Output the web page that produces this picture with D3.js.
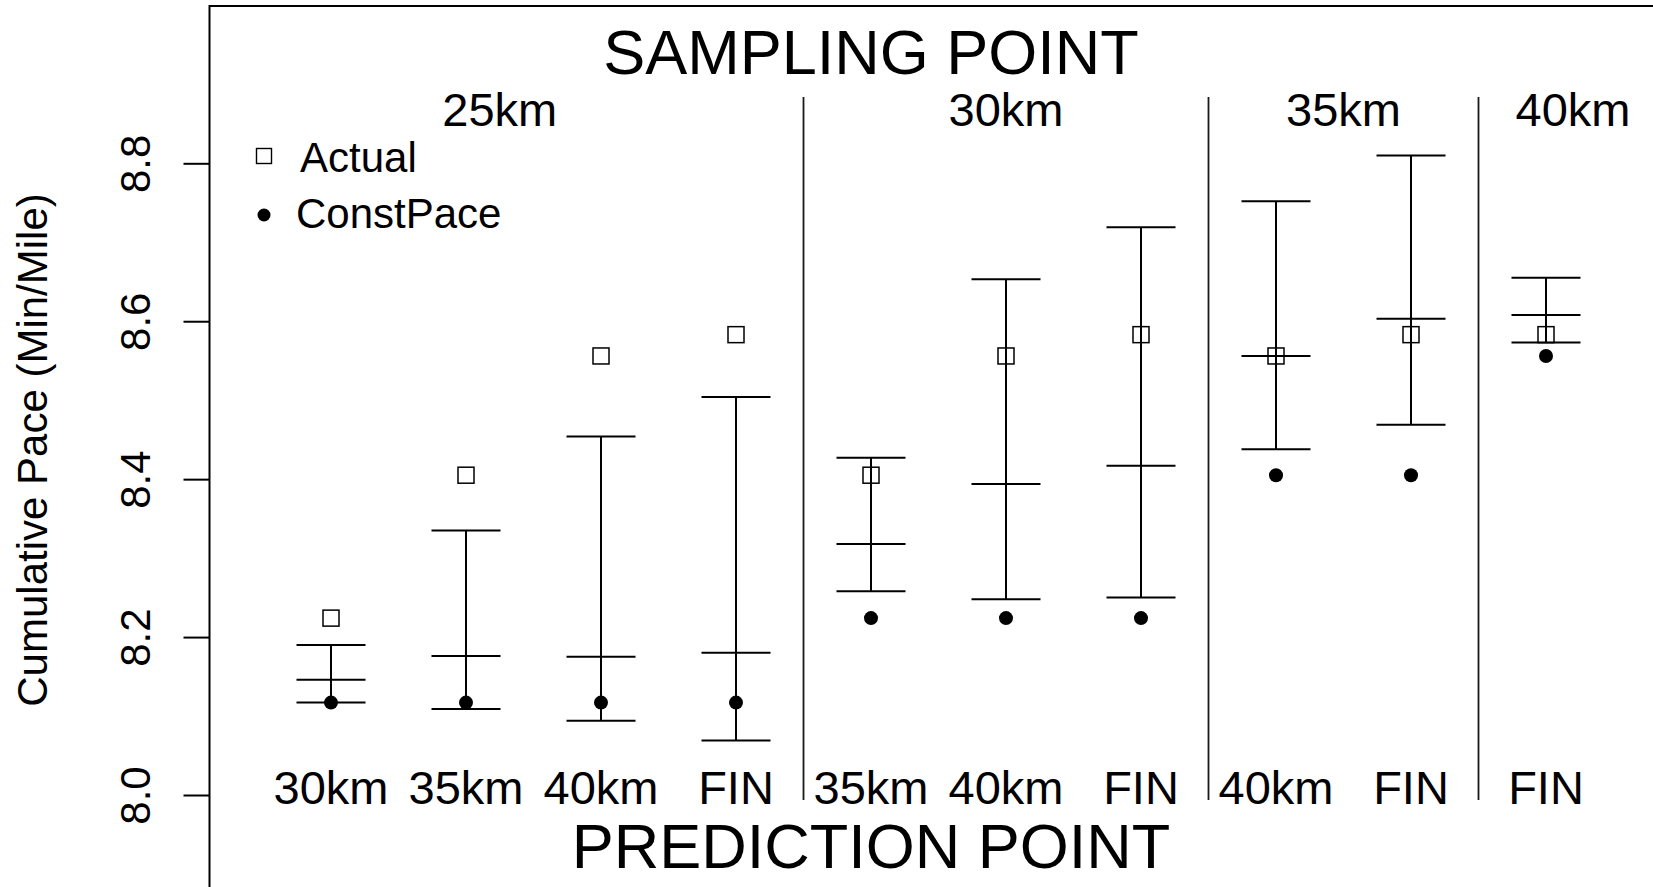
<!DOCTYPE html>
<html>
<head>
<meta charset="utf-8">
<script src="https://cdn.jsdelivr.net/npm/d3@7"></script>
<style>
  html, body { margin: 0; padding: 0; background: #fff; }
  svg { display: block; font-family: "Liberation Sans", Arial, Helvetica, sans-serif; }
</style>
</head>
<body>
<svg id="chart" width="1653" height="887"></svg>
<script>
// ---------------- data ----------------
const samplingPoints = ["25km", "30km", "35km", "40km"];
const groupLabelPos = [2.25, 6, 8.5, 10.2];
const separatorPos = [4.5, 7.5, 9.5];
const predictionLabels = ["30km", "35km", "40km", "FIN", "35km", "40km", "FIN", "40km", "FIN", "FIN"];
const positions = [1, 2, 3, 4, 5, 6, 7, 8, 9, 10];
const actual = [8.224, 8.405, 8.556, 8.583, 8.405, 8.556, 8.583, 8.556, 8.583, 8.583];
const constPace = [8.117, 8.117, 8.117, 8.117, 8.224, 8.224, 8.224, 8.405, 8.405, 8.556];
const lower = [8.117, 8.109, 8.094, 8.069, 8.258, 8.248, 8.250, 8.438, 8.469, 8.573];
const middle = [8.146, 8.176, 8.175, 8.180, 8.318, 8.394, 8.417, 8.556, 8.603, 8.608];
const upper = [8.190, 8.335, 8.454, 8.504, 8.427, 8.653, 8.719, 8.752, 8.810, 8.655];
const yTicks = [8.0, 8.2, 8.4, 8.6, 8.8];
const legendItems = ["Actual", "ConstPace"];
const titleTop = "SAMPLING POINT";
const titleBottom = "PREDICTION POINT";
const yLabel = "Cumulative Pace (Min/Mile)";

// ---------------- scales ----------------
const x = d3.scaleLinear().domain([1, 10]).range([331, 1546]);
const y = d3.scaleLinear().domain([8.0, 8.8]).range([795, 163.3]);

const svg = d3.select("#chart");
const black = "#000";

// plot frame (extends beyond the window on right and bottom)
svg.append("rect")
  .attr("x", x(0.1)).attr("y", 6)
  .attr("width", x(10.9) - x(0.1)).attr("height", 1000)
  .attr("fill", "none").attr("stroke", black).attr("stroke-width", 2);

// y axis
const yAxis = d3.axisLeft(y).tickValues(yTicks).tickFormat(d3.format(".1f")).tickSize(26).tickPadding(0);
const gy = svg.append("g").attr("transform", `translate(${x(0.1)},0)`).call(yAxis);
gy.select(".domain").remove();
gy.selectAll(".tick line").attr("stroke", black).attr("stroke-width", 2);
gy.selectAll(".tick text")
  .attr("x", 0).attr("y", 0).attr("dy", null)
  .attr("transform", `translate(${150 - x(0.1)},0) rotate(-90)`)
  .attr("text-anchor", "middle")
  .attr("font-size", 42).attr("fill", black)
  .style("font-family", '"Liberation Sans", Arial, sans-serif');

// y label
svg.append("text")
  .attr("transform", `translate(47,450) rotate(-90)`)
  .attr("text-anchor", "middle").attr("font-size", 42).attr("fill", black)
  .text(yLabel);

// separators
svg.selectAll("line.sep").data(separatorPos).enter().append("line")
  .attr("class", "sep")
  .attr("x1", d => x(d)).attr("x2", d => x(d))
  .attr("y1", 97).attr("y2", 800)
  .attr("stroke", "#1a1a1a").attr("stroke-width", 1.8);

// titles
svg.append("text").attr("x", x(5)).attr("y", 74).attr("text-anchor", "middle")
  .attr("font-size", 63).attr("fill", black).text(titleTop);
svg.append("text").attr("x", x(5)).attr("y", 868).attr("text-anchor", "middle")
  .attr("font-size", 63).attr("fill", black).text(titleBottom);

// group labels
svg.selectAll("text.grp").data(samplingPoints).enter().append("text")
  .attr("class", "grp")
  .attr("x", (d, i) => x(groupLabelPos[i])).attr("y", 126)
  .attr("text-anchor", "middle").attr("font-size", 47).attr("fill", black)
  .text(d => d);

// prediction labels
svg.selectAll("text.pred").data(predictionLabels).enter().append("text")
  .attr("class", "pred")
  .attr("x", (d, i) => x(positions[i])).attr("y", 804)
  .attr("text-anchor", "middle").attr("font-size", 47).attr("fill", black)
  .text(d => d);

// error bars
const capHalf = 34.5;
const bars = svg.append("g").attr("stroke", black).attr("stroke-width", 2);
positions.forEach((p, i) => {
  const cx = x(p);
  bars.append("line").attr("x1", cx).attr("x2", cx).attr("y1", y(lower[i])).attr("y2", y(upper[i]));
  [lower[i], middle[i], upper[i]].forEach(v => {
    bars.append("line").attr("x1", cx - capHalf).attr("x2", cx + capHalf)
      .attr("y1", y(v)).attr("y2", y(v));
  });
});

// actual (open squares)
const sq = 16;
svg.selectAll("rect.act").data(actual).enter().append("rect")
  .attr("class", "act")
  .attr("x", (d, i) => x(positions[i]) - sq / 2).attr("y", d => y(d) - sq / 2)
  .attr("width", sq).attr("height", sq)
  .attr("fill", "none").attr("stroke", black).attr("stroke-width", 1.5);

// const pace (filled dots)
svg.selectAll("circle.cp").data(constPace).enter().append("circle")
  .attr("class", "cp")
  .attr("cx", (d, i) => x(positions[i])).attr("cy", d => y(d)).attr("r", 7)
  .attr("fill", black);

// legend
const lg = svg.append("g");
lg.append("rect").attr("x", 264 - 7.5).attr("y", 156 - 7.5).attr("width", 15).attr("height", 15)
  .attr("fill", "none").attr("stroke", black).attr("stroke-width", 1.4);
lg.append("circle").attr("cx", 264).attr("cy", 215).attr("r", 6.5).attr("fill", black);
lg.selectAll("text").data(legendItems).enter().append("text")
  .attr("x", (d, i) => [300, 296][i]).attr("y", (d, i) => [172, 228][i])
  .attr("font-size", 42).attr("fill", black).text(d => d);
</script>
</body>
</html>
